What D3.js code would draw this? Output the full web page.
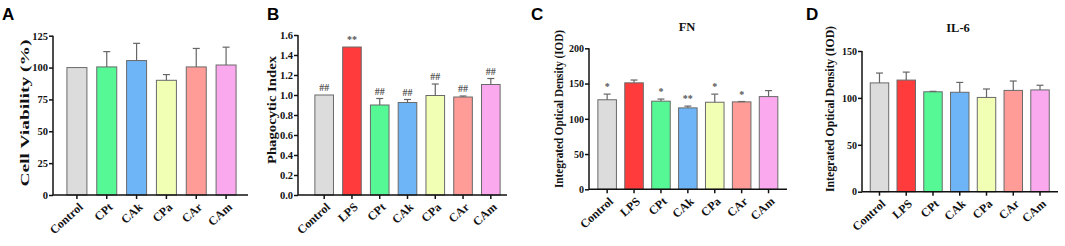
<!DOCTYPE html>
<html>
<head>
<meta charset="utf-8">
<script src="https://cdn.jsdelivr.net/npm/d3@7"></script>
<style>
  html, body { margin: 0; padding: 0; background: #fff; }
  svg { display: block; }
</style>
</head>
<body>
<svg id="fig" width="1065" height="246"></svg>
<script>
// groups and values
const groups_a = ["Control", "CPt", "CAk", "CPa", "CAr", "CAm"];
const groups_bcd = ["Control", "LPS", "CPt", "CAk", "CPa", "CAr", "CAm"];

const viability_mean = [100, 100.5, 105.5, 90, 100.5, 102];
const viability_sd = [0, 12, 13.5, 4.5, 14.5, 14];

const phago_mean = [1.0, 1.48, 0.90, 0.925, 0.995, 0.98, 1.105];
const phago_sd = [0, 0, 0.065, 0.03, 0.115, 0.01, 0.06];
const phago_marks = ["##", "**", "##", "##", "##", "##", "##"];

const fn_mean = [127, 151, 125, 115.5, 123.5, 124, 131.5];
const fn_sd = [8, 4, 3, 2.5, 11.5, 0.5, 8.5];
const fn_marks = ["*", "", "*", "**", "*", "*", ""];

const il6_mean = [116, 119, 106.5, 106, 100.5, 108, 108.5];
const il6_sd = [10.5, 8.5, 0.5, 10.5, 9, 10, 5];

const ticks_a = [0, 25, 50, 75, 100, 125];
const ticks_b = [0, 0.2, 0.4, 0.6, 0.8, 1.0, 1.2, 1.4, 1.6];
const ticks_c = [0, 50, 100, 150, 200];
const ticks_d = [0, 50, 100, 150];

const group_colors = {
    Control: "#dcdcdc",
    LPS: "#ff3b3b",
    CPt: "#55f895",
    CAk: "#6db5f6",
    CPa: "#f0ffb4",
    CAr: "#ff9c97",
    CAm: "#fba9ef"
};

const svg = d3.select("#fig");
const serif = "'Liberation Serif', 'Times New Roman', serif";

function draw_panel(p) {
    const g = svg.append("g");

    const y = d3.scaleLinear().domain(p.domain).range([p.y0, p.y1]);
    const x = d3.scaleBand()
        .domain(p.groups)
        .range([p.x0, p.x1])
        .paddingInner(p.pad)
        .paddingOuter(p.pad / 2);
    const cx = d => x(d) + x.bandwidth() / 2;
    const top = i => y(p.mean[i] + p.sd[i]);

    // bars
    g.selectAll("rect.bar")
        .data(p.groups)
        .join("rect")
        .attr("class", "bar")
        .attr("x", d => x(d))
        .attr("width", x.bandwidth())
        .attr("y", (d, i) => y(p.mean[i]))
        .attr("height", (d, i) => y(0) - y(p.mean[i]))
        .attr("fill", d => group_colors[d])
        .attr("stroke", "#6a6a6a")
        .attr("stroke-width", 1);

    // error bars (upper only)
    const err = g.selectAll("g.err")
        .data(p.groups.map((d, i) => i).filter(i => p.sd[i] > 0))
        .join("g")
        .attr("class", "err");
    err.append("line")
        .attr("x1", i => cx(p.groups[i]))
        .attr("x2", i => cx(p.groups[i]))
        .attr("y1", i => y(p.mean[i]))
        .attr("y2", i => top(i))
        .attr("stroke", "#666")
        .attr("stroke-width", 1.2);
    err.append("line")
        .attr("x1", i => cx(p.groups[i]) - 3.5)
        .attr("x2", i => cx(p.groups[i]) + 3.5)
        .attr("y1", i => top(i))
        .attr("y2", i => top(i))
        .attr("stroke", "#666")
        .attr("stroke-width", 1.2);

    // significance marks
    if (p.marks) {
        g.selectAll("text.mark")
            .data(p.groups)
            .join("text")
            .attr("class", "mark")
            .attr("x", d => cx(d))
            .attr("y", (d, i) => top(i) - 4)
            .attr("text-anchor", "middle")
            .style("font-family", serif)
            .style("font-weight", "bold")
            .style("font-size", p.mark_size + "px")
            .style("fill", "#555")
            .text((d, i) => p.marks[i]);
    }

    // y axis
    const y_axis = g.append("g")
        .attr("transform", `translate(${p.axis_x},0)`)
        .call(d3.axisLeft(y).tickValues(p.ticks).tickSize(4).tickSizeOuter(0).tickPadding(1)
            .tickFormat(p.fmt));
    y_axis.select(".domain").attr("stroke", "#111").attr("stroke-width", 1.5)
        .attr("d", `M0,${p.y1}V${p.y0}`);
    y_axis.selectAll(".tick line").attr("stroke", "#111").attr("stroke-width", 1.5);
    y_axis.selectAll(".tick text")
        .style("font-family", serif)
        .style("font-weight", "bold")
        .style("font-size", p.tick_size + "px")
        .style("fill", "#111");

    // x axis line + ticks
    g.append("line")
        .attr("x1", p.axis_x).attr("x2", p.axis_end)
        .attr("y1", p.y0).attr("y2", p.y0)
        .attr("stroke", "#111").attr("stroke-width", 1.5);
    g.selectAll("line.xtick")
        .data(p.groups)
        .join("line")
        .attr("class", "xtick")
        .attr("x1", d => cx(d))
        .attr("x2", d => cx(d))
        .attr("y1", p.y0).attr("y2", p.y0 + 4)
        .attr("stroke", "#111").attr("stroke-width", 1.5);
    g.selectAll("text.xlab")
        .data(p.groups)
        .join("text")
        .attr("class", "xlab")
        .attr("transform", d => `translate(${cx(d) + 4},${p.y0 + 10}) rotate(-42)`)
        .attr("text-anchor", "end")
        .attr("dy", "0.35em")
        .style("font-family", serif)
        .style("font-weight", "bold")
        .style("font-size", "12px")
        .style("fill", "#111")
        .text(d => d);

    // y title
    g.append("text")
        .attr("transform", `translate(${p.title_x},${p.title_y}) rotate(-90)`)
        .attr("text-anchor", "middle")
        .attr("textLength", p.title_len)
        .attr("lengthAdjust", "spacingAndGlyphs")
        .style("font-family", serif)
        .style("font-weight", "bold")
        .style("font-size", p.title_size + "px")
        .style("fill", "#111")
        .text(p.y_title);

    // panel header
    if (p.header) {
        g.append("text")
            .attr("x", p.header_x)
            .attr("y", p.header_y)
            .attr("text-anchor", "middle")
            .style("font-family", serif)
            .style("font-weight", "bold")
            .style("font-size", "12.5px")
            .style("fill", "#111")
            .text(p.header);
    }

    // panel letter
    g.append("text")
        .attr("x", p.letter_x)
        .attr("y", 20)
        .style("font-family", "'Liberation Sans', Arial, sans-serif")
        .style("font-weight", "bold")
        .style("font-size", "17px")
        .style("fill", "#000")
        .text(p.letter);
}

const panels = [
    {
        letter: "A", letter_x: 2,
        groups: groups_a, mean: viability_mean, sd: viability_sd,
        domain: [0, 125], ticks: ticks_a, fmt: d3.format("d"),
        y0: 195, y1: 35.7, x0: 62, x1: 241, pad: 0.33,
        axis_x: 53, axis_end: 248, tick_size: 10.5,
        y_title: "Cell Viability (%)", title_x: 29, title_y: 113, title_len: 147, title_size: 13
    },
    {
        letter: "B", letter_x: 267,
        groups: groups_bcd, mean: phago_mean, sd: phago_sd, marks: phago_marks, mark_size: 10,
        domain: [0, 1.6], ticks: ticks_b, fmt: d3.format(".1f"),
        y0: 195, y1: 35, x0: 310.3, x1: 504.7, pad: 0.33,
        axis_x: 298, axis_end: 507, tick_size: 10.5,
        y_title: "Phagocytic Index", title_x: 276, title_y: 110, title_len: 108, title_size: 13
    },
    {
        letter: "C", letter_x: 531,
        groups: groups_bcd, mean: fn_mean, sd: fn_sd, marks: fn_marks, mark_size: 10,
        domain: [0, 200], ticks: ticks_c, fmt: d3.format("d"),
        y0: 189.3, y1: 48.3, x0: 593.7, x1: 782, pad: 0.31,
        axis_x: 589, axis_end: 787, tick_size: 10,
        y_title: "Integrated Optical Density (IOD)", title_x: 563, title_y: 109, title_len: 158, title_size: 12.5,
        header: "FN", header_x: 687, header_y: 31
    },
    {
        letter: "D", letter_x: 806,
        groups: groups_bcd, mean: il6_mean, sd: il6_sd,
        domain: [0, 150], ticks: ticks_d, fmt: d3.format("d"),
        y0: 191.7, y1: 51, x0: 866.1, x1: 1053.4, pad: 0.31,
        axis_x: 862, axis_end: 1058, tick_size: 10,
        y_title: "Integrated Optical Density (IOD)", title_x: 834, title_y: 109, title_len: 166, title_size: 12.5,
        header: "IL-6", header_x: 958, header_y: 32
    }
];

panels.forEach(draw_panel);
</script>
</body>
</html>
